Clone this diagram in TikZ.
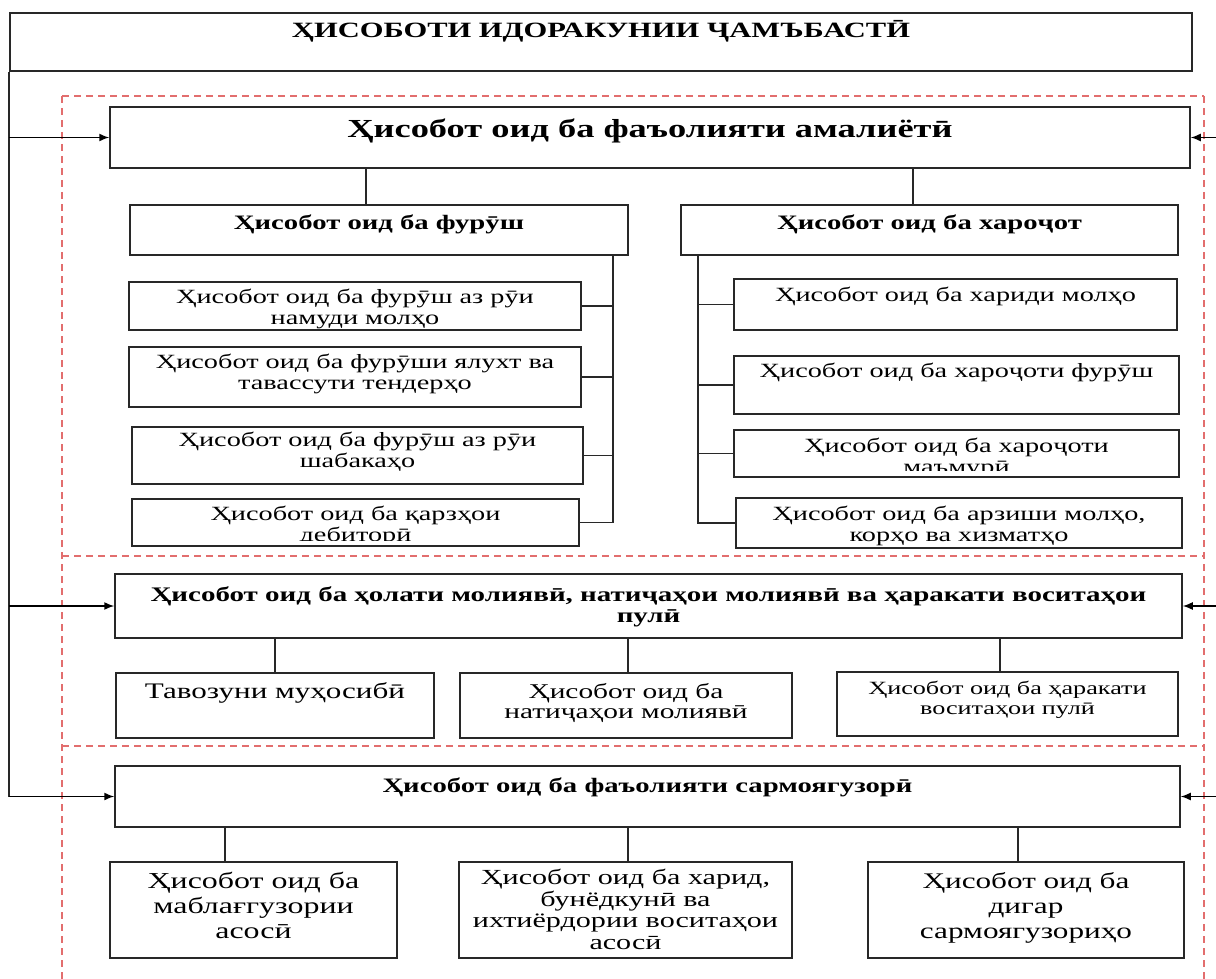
\documentclass[tikz,border=0pt]{standalone}
\usepackage{fontspec}
\setmainfont[FakeStretch=1.4]{Liberation Serif}
\usepackage{tikz}
\usetikzlibrary{arrows.meta, positioning, calc}
\definecolor{boxline}{RGB}{40,40,40}
\definecolor{framered}{RGB}{226,110,110}
\tikzset{
    repbox/.style={rectangle, draw=boxline, line width=1.5pt, inner sep=0pt},
    boxtext/.style={anchor=north, align=center, inner sep=0pt},
    titletext/.style={boxtext, font=\fontsize{21.8}{24}\selectfont\bfseries},
    headtext/.style={boxtext, font=\fontsize{20.5}{21}\selectfont\bfseries},
    bigtext/.style={boxtext, font=\fontsize{26}{28}\selectfont\bfseries},
    subtext/.style={boxtext, font=\fontsize{20.2}{21}\selectfont},
    lowtext/.style={boxtext, font=\fontsize{21}{20}\selectfont},
    link/.style={draw=boxline, line width=1.6pt},
    frame/.style={draw=framered, line width=1.6pt, dash pattern=on 7pt off 5pt},
    arrow/.style={-{Latex[length=10pt,width=8pt]}, line width=1.5pt}
}

\begin{document}
\begin{tikzpicture}[x=1pt, y=-1pt]
    \useasboundingbox (0,0) rectangle (1216,979);

    % section frames
    \draw[frame] (62,96) -- (1204,96);
    \draw[frame] (62,556) -- (1204,556);
    \draw[frame] (62,746) -- (1204,746);
    \draw[frame] (62,96) -- (62,985);
    \draw[frame] (1204,96) -- (1204,985);

    \node (title) [repbox, minimum width=1182pt, minimum height=58pt,
        label={[titletext, yshift=-8pt]north:{ҲИСОБОТИ ИДОРАКУНИИ ҶАМЪБАСТӢ}}] at (601,42) {};

    % operating activity
    \node (oper) [repbox, minimum width=1080pt, minimum height=61pt,
        label={[bigtext, yshift=-12pt]north:{Ҳисобот оид ба фаъолияти амалиётӣ}}] at (650,137.5) {};
    \node (sales) [repbox, minimum width=498pt, minimum height=50pt,
        label={[headtext, yshift=-10pt]north:{Ҳисобот оид ба фурӯш}}] at (379,230) {};
    \node (costs) [repbox, minimum width=497pt, minimum height=50pt,
        label={[headtext, yshift=-10pt]north:{Ҳисобот оид ба хароҷот}}] at (929.5,230) {};

    \node (s1) [repbox, minimum width=452pt, minimum height=48pt,
        label={[subtext, yshift=-7.4pt]north:{Ҳисобот оид ба фурӯш аз рӯи\\намуди молҳо}}] at (355,306) {};
    \node (s2) [repbox, minimum width=452pt, minimum height=60pt,
        label={[subtext, yshift=-7.4pt]north:{Ҳисобот оид ба фурӯши ялухт ва\\тавассути тендерҳо}}] at (355,377) {};
    \node (s3) [repbox, minimum width=451pt, minimum height=57pt,
        label={[subtext, yshift=-5.4pt]north:{Ҳисобот оид ба фурӯш аз рӯи\\шабакаҳо}}] at (357.5,455.5) {};
    \node (s4) [repbox, minimum width=447pt, minimum height=47pt] at (355.5,522.5) {};
    \begin{scope}
        \clip (s4.north west) rectangle ([yshift=6pt]s4.south east);
        \node (s4txt) [subtext] at ([yshift=-7.4pt]s4.north) {Ҳисобот оид ба қарзҳои\\дебиторӣ};
    \end{scope}

    \node (c1) [repbox, minimum width=443pt, minimum height=51pt,
        label={[subtext, yshift=-8.4pt]north:{Ҳисобот оид ба хариди молҳо}}] at (955.5,304.5) {};
    \node (c2) [repbox, minimum width=445pt, minimum height=58pt,
        label={[subtext, yshift=-7.4pt]north:{Ҳисобот оид ба хароҷоти фурӯш}}] at (956.5,385) {};
    \node (c3) [repbox, minimum width=445pt, minimum height=47pt] at (956.5,453.5) {};
    \begin{scope}
        \clip (c3.north west) rectangle ([yshift=7pt]c3.south east);
        \node (c3txt) [subtext] at ([yshift=-8.4pt]c3.north) {Ҳисобот оид ба хароҷоти\\маъмурӣ};
    \end{scope}
    \node (c4) [repbox, minimum width=446pt, minimum height=50pt,
        label={[subtext, yshift=-8.4pt]north:{Ҳисобот оид ба арзиши молҳо,\\корҳо ва хизматҳо}}] at (959,523) {};

    \draw[link] ([xshift=-13pt]sales.north) -- ([xshift=-13pt]sales.north |- oper.south);
    \draw[link] ([xshift=-16.5pt]costs.north) -- ([xshift=-16.5pt]costs.north |- oper.south);

    \coordinate (sbus) at ([xshift=-16pt]sales.south east);
    \draw[link] (sbus) |- (s4.east);
    \foreach \b in {s1,s2,s3}
        \draw[link] (\b.east) -- (\b.east -| sbus);
    \coordinate (cbus) at ([xshift=18pt]costs.south west);
    \draw[link] (cbus) |- (c4.west);
    \foreach \b in {c1,c2,c3}
        \draw[link] (\b.west) -- (\b.west -| cbus);

    % financial position
    \node (fin) [repbox, minimum width=1067pt, minimum height=64pt,
        label={[headtext, font=\fontsize{20.7}{21.5}\selectfont\bfseries, yshift=-13pt]north:{Ҳисобот оид ба ҳолати молиявӣ, натиҷаҳои молиявӣ ва ҳаракати воситаҳои\\пулӣ}}] at (648.5,606) {};
    \node (bal) [repbox, minimum width=318pt, minimum height=65pt,
        label={[lowtext, font=\fontsize{22.2}{22}\selectfont, yshift=-10pt]north:{Тавозуни муҳосибӣ}}] at (275,705.5) {};
    \node (res) [repbox, minimum width=332pt, minimum height=65pt,
        label={[lowtext, yshift=-11pt]north:{Ҳисобот оид ба\\натиҷаҳои молиявӣ}}] at (626,705.5) {};
    \node (cash) [repbox, minimum width=341pt, minimum height=64pt,
        label={[subtext, font=\fontsize{18.7}{20}\selectfont, yshift=-9.5pt]north:{Ҳисобот оид ба ҳаракати\\воситаҳои пулӣ}}] at (1007.5,704) {};

    \draw[link] (bal.north) -- (bal.north |- fin.south);
    \draw[link] ([xshift=2pt]res.north) -- ([xshift=2pt]res.north |- fin.south);
    \draw[link] ([xshift=-7.5pt]cash.north) -- ([xshift=-7.5pt]cash.north |- fin.south);

    % investing activity
    \node (inv) [repbox, minimum width=1065pt, minimum height=61pt,
        label={[headtext, yshift=-12pt]north:{Ҳисобот оид ба фаъолияти сармоягузорӣ}}] at (647.5,796.5) {};
    \node (fund) [repbox, minimum width=287pt, minimum height=96pt,
        label={[lowtext, font=\fontsize{22.8}{25}\selectfont, yshift=-11pt]north:{Ҳисобот оид ба\\маблағгузории\\асосӣ}}] at (253.5,910) {};
    \node (acq) [repbox, minimum width=333pt, minimum height=96pt,
        label={[lowtext, font=\fontsize{21.5}{21.5}\selectfont, yshift=-8pt]north:{Ҳисобот оид ба харид,\\бунёдкунӣ ва\\ихтиёрдории воситаҳои\\асосӣ}}] at (625.5,910) {};
    \node (other) [repbox, minimum width=316pt, minimum height=96pt,
        label={[lowtext, font=\fontsize{22.3}{25}\selectfont, yshift=-11pt]north:{Ҳисобот оид ба\\дигар\\сармоягузориҳо}}] at (1026,910) {};

    \draw[link] ([xshift=-28.5pt]fund.north) -- ([xshift=-28.5pt]fund.north |- inv.south);
    \draw[link] ([xshift=2.5pt]acq.north) -- ([xshift=2.5pt]acq.north |- inv.south);
    \draw[link] ([xshift=-8pt]other.north) -- ([xshift=-8pt]other.north |- inv.south);

    % arrows from the left and from the right
    \coordinate (rside) at (1222,0);
    \draw[link] (title.south west) -- (title.south west |- inv.west);
    \foreach \b in {oper,fin,inv} {
        \draw[arrow] (title.south west |- \b.west) -- (\b.west);
        \draw[arrow] (rside |- \b.east) -- (\b.east);
    }
\end{tikzpicture}
\end{document}
